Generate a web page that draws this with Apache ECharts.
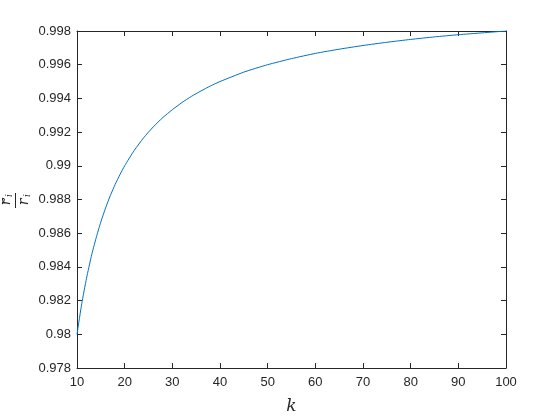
<!DOCTYPE html>
<html>
<head>
<meta charset="utf-8">
<script src="https://cdn.jsdelivr.net/npm/echarts@6/dist/echarts.min.js"></script>
<style>html,body{margin:0;padding:0;background:#fff;}#c{width:560px;height:420px;}</style>
</head>
<body>
<div id="c"></div>
<script>
var kValues = [10, 11, 12, 13, 14, 15, 16, 17, 18, 19, 20, 22, 24, 26, 28, 30, 32, 34, 36, 38, 40, 45, 50, 55, 60, 65, 70, 75, 80, 85, 90, 95, 100];
var ratioValues = [0.98000, 0.98182, 0.98333, 0.98462, 0.98571, 0.98667, 0.98750, 0.98824, 0.98889, 0.98947, 0.99000, 0.99091, 0.99167, 0.99231, 0.99286, 0.99333, 0.99375, 0.99412, 0.99444, 0.99474, 0.99500, 0.99556, 0.99600, 0.99636, 0.99667, 0.99692, 0.99714, 0.99733, 0.99750, 0.99765, 0.99778, 0.99789, 0.99800];
var xTicks = [10, 20, 30, 40, 50, 60, 70, 80, 90, 100];
var yTicks = [0.978, 0.98, 0.982, 0.984, 0.986, 0.988, 0.99, 0.992, 0.994, 0.996, 0.998];

var axisColor = '#262626';
var font = 'Liberation Sans, Arial, Helvetica, sans-serif';
var serif = 'DejaVu Serif, Liberation Serif, serif';
var chart = echarts.init(document.getElementById('c'), null, {renderer: 'canvas'});
var data = kValues.map(function (k, i) { return [k, ratioValues[i]]; });

function baseX(pos, showLabel) {
  return {
    type: 'value', position: pos, min: xTicks[0], max: xTicks[xTicks.length - 1], interval: 10,
    axisLine: {show: true, onZero: false, lineStyle: {color: axisColor, width: 1}},
    axisTick: {show: true, inside: true, length: 5, lineStyle: {color: axisColor}},
    axisLabel: {show: showLabel, color: axisColor, fontFamily: font, fontSize: 13, margin: 8},
    splitLine: {show: false}
  };
}
function baseY(pos, showLabel) {
  return {
    type: 'value', position: pos, min: yTicks[0], max: yTicks[yTicks.length - 1], interval: 0.002,
    axisLine: {show: true, onZero: false, lineStyle: {color: axisColor, width: 1}},
    axisTick: {show: true, inside: true, length: 5, lineStyle: {color: axisColor}},
    axisLabel: {show: showLabel, color: axisColor, fontFamily: font, fontSize: 13, margin: 6,
      formatter: function (v) { return String(parseFloat(v.toFixed(3))); }},
    splitLine: {show: false}
  };
}
var xb = baseX('bottom', true);
xb.name = 'k';
xb.nameLocation = 'middle';
xb.nameGap = 30;
xb.nameTextStyle = {fontFamily: serif, fontStyle: 'italic', fontSize: 17, color: axisColor};

chart.setOption({
  backgroundColor: '#fff',
  animation: false,
  grid: {left: 77, right: 54, top: 31, bottom: 47, containLabel: false},
  xAxis: [xb, baseX('top', false)],
  yAxis: [baseY('left', true), baseY('right', false)],
  series: [{
    type: 'line', xAxisIndex: 0, yAxisIndex: 0, data: data, showSymbol: false,
    smooth: 0.2,
    lineStyle: {color: '#0072BD', width: 1}
  }],
  graphic: [{
    type: 'group', x: 15.5, y: 201, rotation: Math.PI / 2,
    children: [
      {type: 'text', x: 0, y: -11, style: {text: '~', fontFamily: serif, fontSize: 9, fill: axisColor, align: 'center', verticalAlign: 'middle'}},
      {type: 'text', x: -1, y: -2, style: {text: 'r', fontFamily: serif, fontStyle: 'italic', fontSize: 14, fill: axisColor, align: 'center', verticalAlign: 'bottom'}},
      {type: 'text', x: 4, y: -1, style: {text: 'i', fontFamily: serif, fontStyle: 'italic', fontSize: 9, fill: axisColor, align: 'left', verticalAlign: 'bottom'}},
      {type: 'line', shape: {x1: -7, y1: 0, x2: 8, y2: 0}, style: {stroke: axisColor, lineWidth: 1}},
      {type: 'text', x: -1, y: 2, style: {text: 'r', fontFamily: serif, fontStyle: 'italic', fontSize: 14, fill: axisColor, align: 'center', verticalAlign: 'top'}},
      {type: 'text', x: 4, y: 8, style: {text: 'i', fontFamily: serif, fontStyle: 'italic', fontSize: 9, fill: axisColor, align: 'left', verticalAlign: 'top'}}
    ]
  }]
});
</script>
</body>
</html>
